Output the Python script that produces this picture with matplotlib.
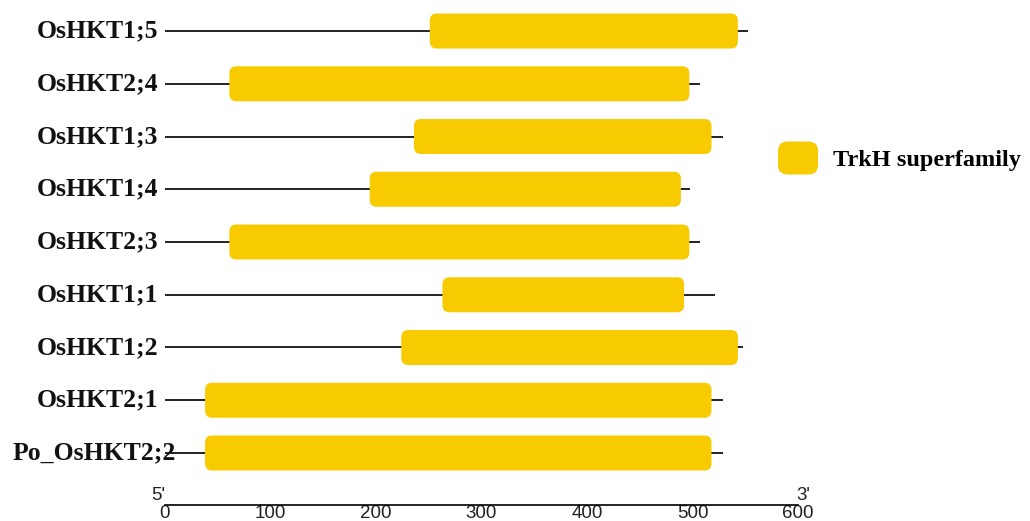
import matplotlib.pyplot as plt
from matplotlib.patches import FancyBboxPatch
from matplotlib.legend_handler import HandlerPatch
from matplotlib.transforms import offset_copy

# protein names, top to bottom
genes = ['OsHKT1;5', 'OsHKT2;4', 'OsHKT1;3', 'OsHKT1;4', 'OsHKT2;3',
         'OsHKT1;1', 'OsHKT1;2', 'OsHKT2;1', 'Po_OsHKT2;2']
# full protein length (aa)
lengths = [553, 507, 529, 498, 507, 521, 548, 529, 529]
# TrkH superfamily domain start / end (aa)
dom_start = [251, 61, 236, 194, 61, 263, 224, 38, 38]
dom_end = [543, 497, 518, 489, 497, 492, 543, 518, 518]
domain_name = 'TrkH superfamily'
scale_ticks = [0, 100, 200, 300, 400, 500, 600]

gold = '#F8CA00'
serif = 'Liberation Serif'

fig = plt.figure(figsize=(10.30, 5.21), dpi=100)
ax = fig.add_axes([165 / 1030, 16 / 521, 633 / 1030, 505 / 521])
ax.set_xlim(0, 600)
ax.set_ylim(8.986, -0.588)

bar_h = 0.663
# rounded corners: mutation_aspect compensates for the different x/y scales
aspect = (1 / 52.75) / (1 / 1.055)

labels = []
for i, g in enumerate(genes):
    ax.hlines(i, 0, lengths[i], color='#222222', lw=1.4, zorder=1)
    box = FancyBboxPatch((dom_start[i], i - bar_h / 2),
                         dom_end[i] - dom_start[i], bar_h,
                         boxstyle='round,pad=0,rounding_size=6.6',
                         mutation_aspect=aspect,
                         facecolor=gold, edgecolor='none', zorder=2)
    ax.add_patch(box)
    t = ax.text(-6, i, g, ha='right', va='center', fontsize=18.5,
                fontweight='bold', family=serif, color='#111111',
                clip_on=False, zorder=3)
    labels.append(t)

# long names would run off the left edge: push them right so they fit
fig.canvas.draw()
renderer = fig.canvas.get_renderer()
for t in labels:
    bb = t.get_window_extent(renderer)
    if bb.x0 < 13:
        t.set_transform(offset_copy(ax.transData, fig=fig,
                                    x=(13 - bb.x0) * 72 / fig.dpi, units='points'))

# scale bar along the bottom
for s in ['left', 'top', 'right']:
    ax.spines[s].set_visible(False)
ax.spines['bottom'].set_linewidth(1.2)
ax.set_yticks([])
ax.set_xticks(scale_ticks)
ax.tick_params(axis='x', length=0, pad=0, labelsize=13.5)
for lab in ax.get_xticklabels():
    lab.set_family('Liberation Sans')
    lab.set_color('#222222')

xt = ax.get_xaxis_transform()
ax.text(-6, 0.002, "5'", transform=xt, ha='center', va='bottom',
        fontsize=13.5, family='Liberation Sans', color='#222222')
ax.text(605, 0.002, "3'", transform=xt, ha='center', va='bottom',
        fontsize=13.5, family='Liberation Sans', color='#222222')


def rounded_handle(legend, orig_handle, xdescent, ydescent, width, height, fontsize):
    return FancyBboxPatch((-xdescent, -ydescent), width, height,
                          boxstyle='round,pad=0,rounding_size=7')


handle = FancyBboxPatch((0, 0), 1, 1, facecolor=gold, edgecolor='none')
fig.legend([handle], [domain_name], loc='center left',
           bbox_to_anchor=(778 / 1030, 1 - 158 / 521),
           frameon=False, borderpad=0, borderaxespad=0,
           handlelength=1.65, handleheight=1.71, handletextpad=0.62,
           prop={'family': serif, 'weight': 'bold', 'size': 17.5},
           handler_map={FancyBboxPatch: HandlerPatch(patch_func=rounded_handle)})

fig.savefig('out.png', dpi=100, facecolor='white')
